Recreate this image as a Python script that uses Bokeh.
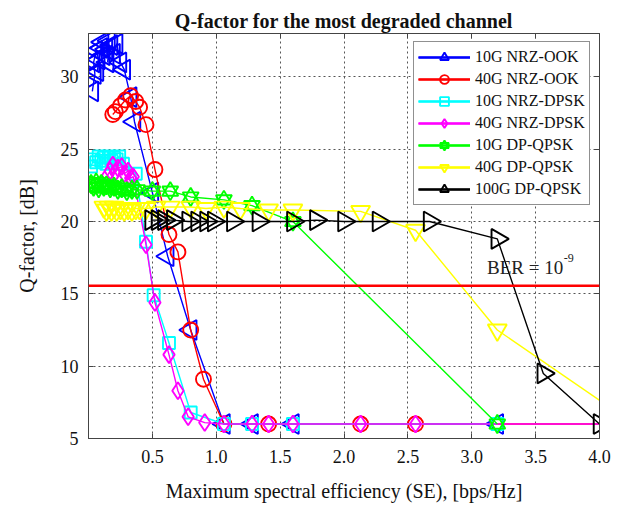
import math
from bokeh.plotting import figure
from bokeh.models import (Range1d, LinearAxis, Legend, LegendItem, Label, Span,
                          FixedTicker, CustomJSTickFormatter)
from bokeh.embed import file_html
from bokeh.resources import INLINE

# ---------------- data ----------------
nrz_ook_10_x = [0.03, 0.05, 0.04, 0.06, 0.08, 0.07, 0.10, 0.12, 0.11, 0.14, 0.16, 0.15,
                0.18, 0.20, 0.22, 0.25, 0.28, 0.33, 0.36, 0.50, 0.62, 0.80, 1.06, 1.28, 1.60, 3.20]
nrz_ook_10_y = [29.0, 30.2, 31.0, 31.8, 31.2, 30.4, 32.0, 31.5, 32.4, 31.9, 32.5, 31.0,
                32.2, 31.6, 32.3, 31.0, 30.5, 28.6, 26.9, 22.0, 17.6, 12.5, 6.0, 6.0, 6.0, 6.0]

nrz_ook_40_x = [0.19, 0.21, 0.25, 0.29, 0.33, 0.37, 0.40, 0.45, 0.52, 0.63, 0.70, 0.80,
                0.90, 1.06, 1.41, 2.13, 2.56, 4.27]
nrz_ook_40_y = [27.4, 27.6, 28.0, 28.4, 28.7, 28.3, 27.9, 26.7, 23.6, 19.1, 17.9, 12.5,
                9.1, 6.0, 6.0, 6.0, 6.0, 6.0]

nrz_dpsk_10_x = [0.02, 0.04, 0.06, 0.08, 0.10, 0.12, 0.14, 0.16, 0.18, 0.20, 0.22, 0.24,
                 0.27, 0.37, 0.45, 0.51, 0.63, 0.80, 1.06, 1.28, 1.60, 3.20]
nrz_dpsk_10_y = [23.8, 24.3, 24.1, 24.5, 24.2, 24.4, 24.0, 24.5, 24.2, 24.4, 24.3, 24.5,
                 24.0, 23.3, 18.6, 14.9, 11.6, 6.8, 6.0, 6.0, 6.0, 6.0]

nrz_dpsk_40_x = [0.15, 0.17, 0.19, 0.21, 0.23, 0.26, 0.28, 0.31, 0.33, 0.35, 0.45, 0.52,
                 0.63, 0.70, 0.78, 0.91, 1.06, 1.28, 1.41, 1.60, 2.13, 2.56, 4.27]
nrz_dpsk_40_y = [23.2, 23.5, 23.9, 23.4, 23.7, 23.8, 23.3, 23.5, 23.0, 23.1, 18.4, 14.4,
                 10.8, 8.3, 6.5, 6.1, 6.0, 6.0, 6.0, 6.0, 6.0, 6.0, 6.0]

dpqpsk_10_x = [0.02, 0.04, 0.06, 0.08, 0.10, 0.12, 0.14, 0.17, 0.20, 0.23, 0.26, 0.30,
               0.34, 0.38, 0.50, 0.64, 0.80, 1.06, 1.28, 1.60, 3.20]
dpqpsk_10_y = [22.6, 22.4, 22.7, 22.3, 22.6, 22.4, 22.5, 22.3, 22.4, 22.2, 22.3, 22.1,
               22.2, 22.2, 22.1, 22.1, 21.7, 21.5, 21.1, 20.0, 6.0]

dpqpsk_40_x = [0.12, 0.14, 0.16, 0.18, 0.20, 0.22, 0.25, 0.28, 0.31, 0.34, 0.37, 0.40,
               0.45, 0.53, 0.64, 0.80, 0.92, 1.06, 1.19, 1.41, 1.60, 2.13, 2.56, 3.20, 4.27]
dpqpsk_40_y = [21.0, 20.8, 21.0, 20.8, 21.0, 20.8, 20.9, 20.8, 20.9, 20.8, 20.9, 20.9,
               20.9, 21.0, 21.0, 21.0, 20.9, 21.0, 20.9, 20.8, 20.8, 20.7, 19.4, 12.5, 6.0]

dpqpsk_100_x = [0.49, 0.54, 0.59, 0.66, 0.78, 0.85, 0.92, 0.98, 1.13, 1.33, 1.60, 1.78,
                2.00, 2.27, 2.67, 3.20, 3.56, 4.00]
dpqpsk_100_y = [20.1, 20.1, 20.1, 20.1, 20.0, 20.0, 20.0, 20.0, 20.0, 20.0, 20.0, 20.1,
                20.0, 20.0, 20.0, 18.8, 9.5, 6.0]

ber_threshold = 15.56
x_ticks = [0.5, 1.0, 1.5, 2.0, 2.5, 3.0, 3.5, 4.0]
y_ticks = [5, 10, 15, 20, 25, 30]

SERIF = "Liberation Serif"

p = figure(width=624, height=506, output_backend="svg", toolbar_location=None,
           x_range=Range1d(0, 4), y_range=Range1d(5, 33),
           min_border_left=88, min_border_right=25, min_border_top=33, min_border_bottom=68,
           title="Q-factor for the most degraded channel")
p.background_fill_color = "white"
p.border_fill_color = "white"
p.outline_line_color = "#444444"
p.outline_line_width = 1

p.title.text_font = SERIF
p.title.text_font_size = "20px"
p.title.text_font_style = "bold"
p.title.align = "center"
p.title.text_color = "#111111"
p.title.standoff = 3

fmt = CustomJSTickFormatter(code="return tick.toFixed(1);")
for ax in p.xaxis:
    ax.ticker = FixedTicker(ticks=x_ticks)
    ax.formatter = fmt
for ax in p.yaxis:
    ax.ticker = FixedTicker(ticks=y_ticks)

for ax in list(p.xaxis) + list(p.yaxis):
    ax.major_tick_in = 5
    ax.major_tick_out = 0
    ax.minor_tick_line_color = None
    ax.axis_line_color = "#444444"
    ax.major_tick_line_color = "#444444"
    ax.major_label_text_font = SERIF
    ax.major_label_text_font_size = "18px"
    ax.major_label_text_color = "#111111"
    ax.axis_label_text_font = SERIF
    ax.axis_label_text_font_size = "20px"
    ax.axis_label_text_font_style = "normal"
    ax.axis_label_text_color = "#111111"

p.xaxis.axis_label = "Maximum spectral efficiency (SE), [bps/Hz]"
p.xaxis.major_label_standoff = 11
p.xaxis.axis_label_standoff = 14
p.yaxis.axis_label = "Q-factor, [dB]"
p.yaxis.major_label_standoff = 10
p.yaxis.axis_label_standoff = 20

# mirrored tick marks on top and right (MATLAB box style)
top_ax = LinearAxis(ticker=FixedTicker(ticks=x_ticks), major_label_text_font_size="0px",
                    major_tick_in=5, major_tick_out=0, minor_tick_line_color=None,
                    axis_line_color="#444444", major_tick_line_color="#444444",
                    major_label_standoff=0)
right_ax = LinearAxis(ticker=FixedTicker(ticks=y_ticks), major_label_text_font_size="0px",
                      major_tick_in=5, major_tick_out=0, minor_tick_line_color=None,
                      axis_line_color="#444444", major_tick_line_color="#444444",
                      major_label_standoff=0)
p.add_layout(top_ax, "above")
p.add_layout(right_ax, "right")

p.grid.grid_line_color = "#555555"
p.grid.grid_line_dash = "2 3"
p.grid.grid_line_width = 1
p.xgrid.ticker = FixedTicker(ticks=x_ticks)
p.ygrid.ticker = FixedTicker(ticks=y_ticks)

LW = 1.4
MLW = 1.9
items = []
nan = float("nan")

def add_series(label, xs, ys, color, markers):
    # thicker line used only for the legend sample (no visible data)
    lg = p.line([nan], [nan], line_color=color, line_width=2.4)
    lr = p.line(xs, ys, line_color=color, line_width=LW)
    rs = [lg, lr]
    for (m, size, ang) in markers:
        rs.append(p.scatter(xs, ys, marker=m, size=size, angle=ang,
                            fill_color=None, line_color=color, line_width=MLW))
    items.append(LegendItem(label=label, renderers=rs))

add_series("10G NRZ-OOK", nrz_ook_10_x, nrz_ook_10_y, "#0000ff", [("triangle", 20, math.pi / 2)])
add_series("40G NRZ-OOK", nrz_ook_40_x, nrz_ook_40_y, "#ff0000", [("circle", 15, 0)])
add_series("10G NRZ-DPSK", nrz_dpsk_10_x, nrz_dpsk_10_y, "#00ffff", [("square", 12, 0)])
add_series("40G NRZ-DPSK", nrz_dpsk_40_x, nrz_dpsk_40_y, "#ff00ff", [("diamond", 17, 0)])
add_series("10G DP-QPSK", dpqpsk_10_x, dpqpsk_10_y, "#00ff00",
           [("triangle", 16, 0), ("inverted_triangle", 16, 0)])
add_series("40G DP-QPSK", dpqpsk_40_x, dpqpsk_40_y, "#ffff00", [("inverted_triangle", 19, 0)])
add_series("100G DP-QPSK", dpqpsk_100_x, dpqpsk_100_y, "#000000", [("triangle", 20, -math.pi / 2)])

p.add_layout(Span(location=ber_threshold, dimension="width", line_color="#ff0000", line_width=2.5))

p.add_layout(Label(x=3.12, y=16.8, text="BER = 10", text_font=SERIF, text_font_size="19px",
                   text_baseline="middle", text_color="#222222"))
p.add_layout(Label(x=3.72, y=17.5, text="-9", text_font=SERIF, text_font_size="12px",
                   text_baseline="middle", text_color="#222222"))

legend = Legend(items=items, location=(325, 233))
legend.label_text_font = SERIF
legend.label_text_font_size = "16px"
legend.label_text_color = "#111111"
legend.glyph_width = 52
legend.glyph_height = 22
legend.label_height = 20
legend.label_standoff = 5
legend.spacing = 0
legend.padding = 4
legend.margin = 0
legend.border_line_color = "#222222"
legend.border_line_width = 1
legend.background_fill_color = "white"
legend.background_fill_alpha = 1.0
p.add_layout(legend)

open("out.html", "w").write(file_html(p, INLINE))
